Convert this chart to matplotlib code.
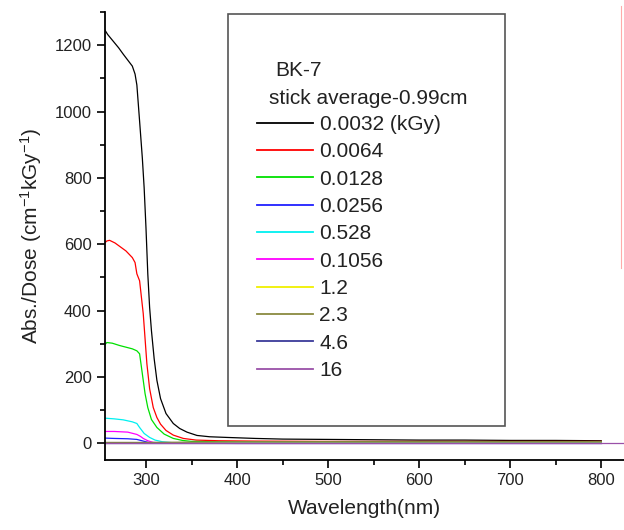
import matplotlib
matplotlib.use("Agg")
import matplotlib.pyplot as plt
from matplotlib.patches import Rectangle
from matplotlib.lines import Line2D
from matplotlib.ticker import MultipleLocator

plt.rcParams['font.family'] = ['Liberation Sans', 'DejaVu Sans']
plt.rcParams['mathtext.default'] = 'regular'

# ---- data ----
labels = ["0.0032 (kGy)", "0.0064", "0.0128", "0.0256", "0.528",
          "0.1056", "1.2", "2.3", "4.6", "16"]
colors = ["#000000", "#ff0000", "#00e000", "#2020ff", "#00f0f0",
          "#ff00ff", "#f0f000", "#8a8a40", "#3a3a9a", "#9a50a8"]

wl_k = [255, 258, 264, 270, 275, 280, 285, 288, 290, 293, 296, 298, 300, 302,
        304, 306, 309, 312, 316, 322, 330, 337, 345, 356, 370, 389, 420, 450,
        500, 550, 600, 650, 700, 750, 800]
ab_k = [1245, 1232, 1212, 1192, 1173, 1155, 1137, 1113, 1080, 971, 860, 770,
        650, 511, 410, 340, 255, 190, 135, 90, 60, 45, 34, 24, 20, 18, 15, 13,
        12, 11, 10, 10, 9, 9, 8]

wl_r = [255, 257, 260, 266, 272, 278, 285, 288, 290, 293, 297, 301, 304, 308,
        312, 316, 322, 330, 341, 355, 380, 420, 500, 600, 700, 800]
ab_r = [605, 610, 612, 604, 592, 580, 560, 545, 511, 490, 391, 240, 165, 108,
        78, 58, 39, 25, 15, 10, 8, 7, 6, 6, 6, 6]

wl_g = [255, 257, 263, 271, 278, 285, 290, 293, 296, 299, 302, 306, 312, 320,
        330, 340, 350, 380, 450, 600, 800]
ab_g = [298, 304, 302, 295, 290, 285, 279, 270, 210, 150, 108, 72, 48, 28,
        15, 9, 6, 5, 4, 4, 4]

wl_b = [255, 265, 280, 290, 297, 304, 315, 400, 600, 800]
ab_b = [16, 15, 14, 12, 7, 2, 0.5, 0, 0, 0]

wl_c = [255, 265, 275, 285, 290, 293, 298, 304, 310, 318, 330, 400, 600, 800]
ab_c = [76, 74, 71, 65, 60, 48, 30, 18, 10, 5, 2, 1, 1, 1]

wl_m = [255, 265, 280, 290, 294, 297, 302, 308, 320, 400, 800]
ab_m = [36, 36, 34, 27, 21, 15, 8, 3, 1, 0, 0]

wl_y = [255, 300, 400, 600, 800]
ab_y = [1, 1, 0.5, 0.5, 0.5]

wl_o = [255, 300, 350, 400, 600, 800]
ab_o = [3, 3, 4, 5, 5, 5]

wl_n = [255, 400, 800]
ab_n = [0, 0, 0]

wl_p = [255, 500, 825]
ab_p = [0, 0, 0]

series = [(wl_k, ab_k), (wl_r, ab_r), (wl_g, ab_g), (wl_b, ab_b),
          (wl_c, ab_c), (wl_m, ab_m), (wl_y, ab_y), (wl_o, ab_o),
          (wl_n, ab_n), (wl_p, ab_p)]

W, H = 624, 530
fig = plt.figure(figsize=(W / 100, H / 100), dpi=100)
ax = fig.add_axes([105 / W, 70 / H, 519 / W, 448 / H])

handles = []
for (x, y), c, lab in zip(series, colors, labels):
    h, = ax.plot(x, y, color=c, lw=0.9, label=lab)
    handles.append(h)

ax.set_xlim(255, 825)
ax.set_ylim(-50, 1300)
ax.xaxis.set_major_locator(MultipleLocator(100))
ax.xaxis.set_minor_locator(MultipleLocator(50))
ax.yaxis.set_major_locator(MultipleLocator(200))
ax.yaxis.set_minor_locator(MultipleLocator(100))
ax.tick_params(which='major', direction='out', length=6, width=1.2,
               labelsize=12, labelcolor='#222')
ax.tick_params(which='minor', direction='out', length=3.5, width=1.2)
for s in ['top', 'right']:
    ax.spines[s].set_visible(False)
for s in ['left', 'bottom']:
    ax.spines[s].set_linewidth(1.3)

ax.set_xlabel("Wavelength(nm)", fontsize=15, color='#222', labelpad=8)
ax.set_ylabel("Abs./Dose (cm$^{-1}$kGy$^{-1}$)", fontsize=15, color='#222',
              labelpad=8)

# legend box and its header lines
fig.add_artist(Rectangle((228 / W, 1 - 426 / H), (505 - 228) / W,
                         (426 - 14) / H, transform=fig.transFigure,
                         fill=False, ec='#555555', lw=1.2))
fig.text(275 / W, 1 - 70 / H, "BK-7", fontsize=15, va='center', color='#222')
fig.text(269 / W, 1 - 98 / H, "stick average-0.99cm", fontsize=15,
         va='center', color='#222')
leg = ax.legend(handles=handles, loc='upper left', frameon=False,
                bbox_to_anchor=(257 / W, 1 - 115 / H),
                bbox_transform=fig.transFigure, fontsize=15,
                handlelength=2.7, handletextpad=0.3, labelspacing=0.4,
                borderpad=0, borderaxespad=0)
for t in leg.get_texts():
    t.set_color('#222')
for ln in leg.get_lines():
    ln.set_linewidth(1.3)

# faint vertical line at the right edge
fig.add_artist(Line2D([621 / W, 621 / W], [1 - 268 / H, 1 - 6 / H],
                      transform=fig.transFigure, color='#ffaaaa', lw=0.8))

fig.savefig("out.png", dpi=100)
